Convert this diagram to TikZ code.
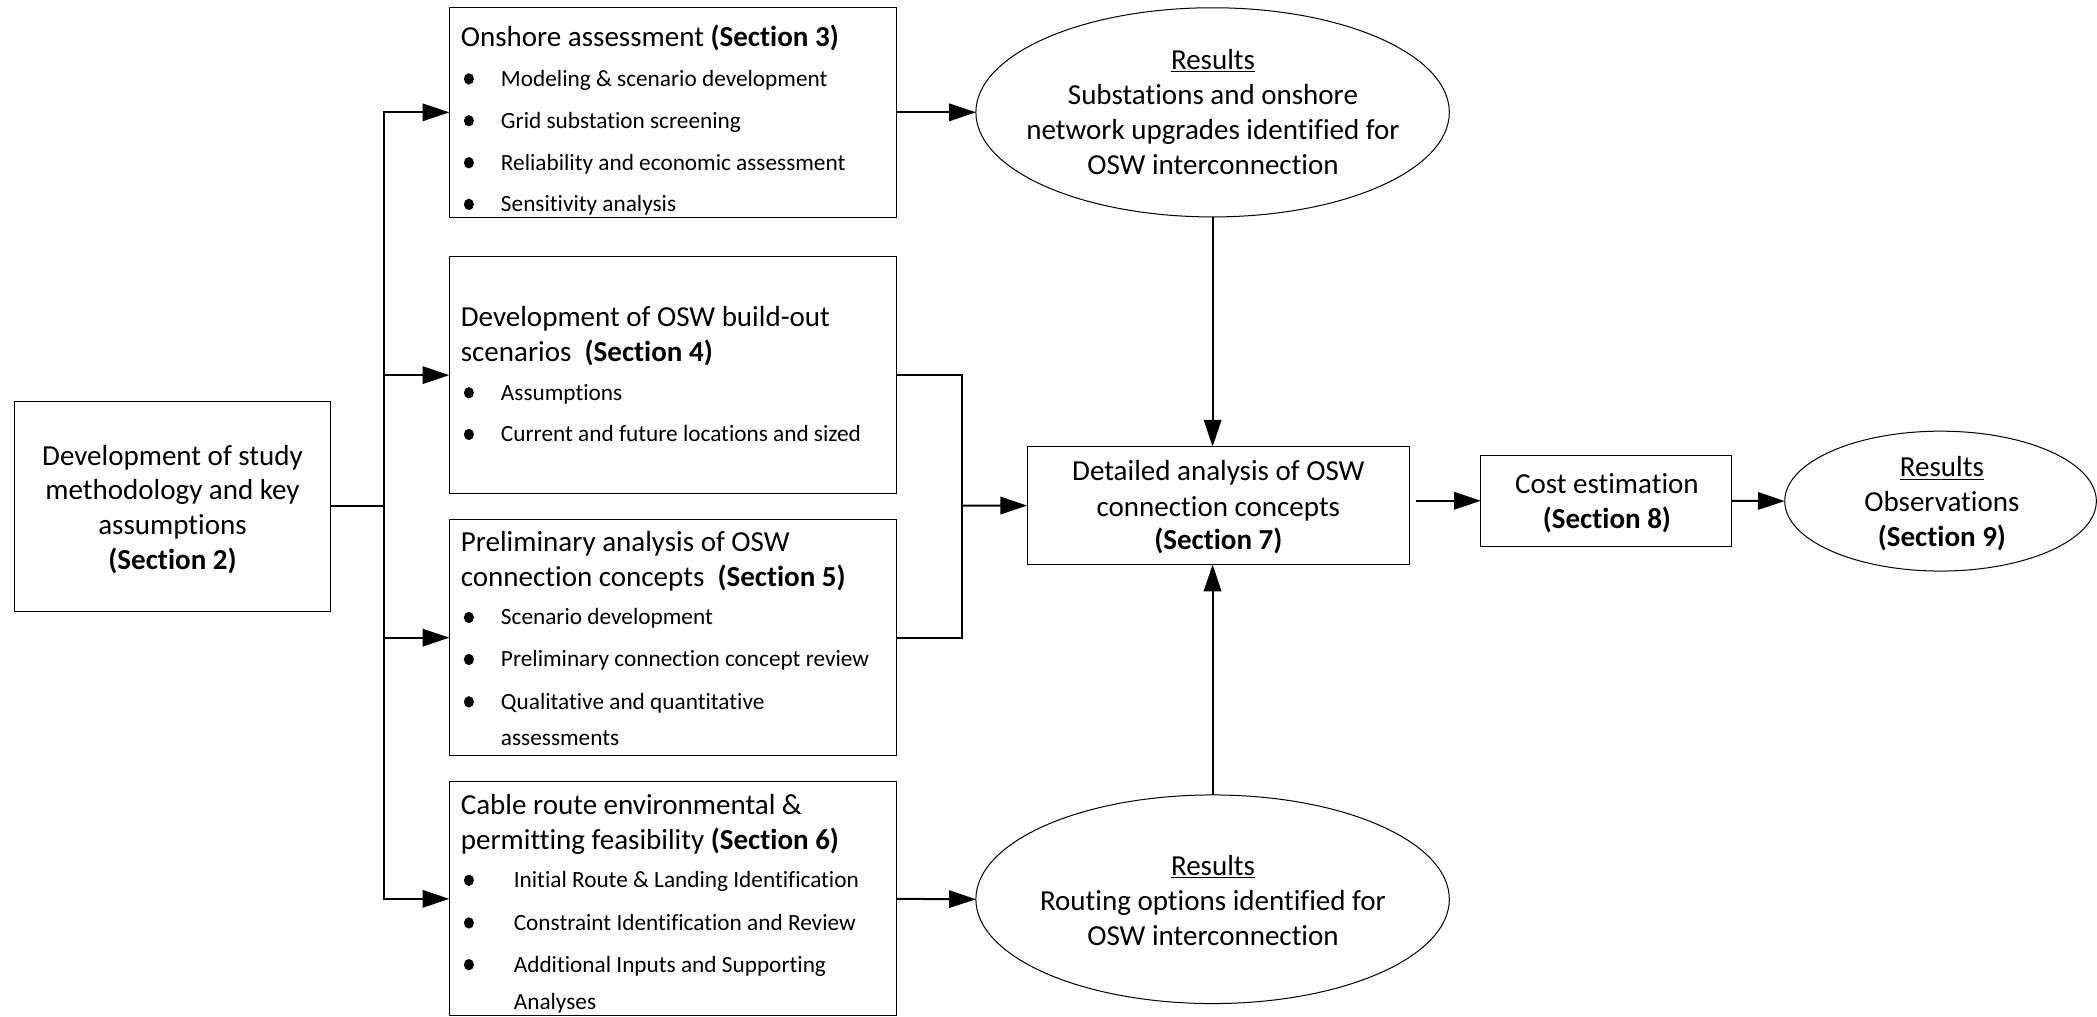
\documentclass[tikz,border=0pt]{standalone}
\usepackage{fontspec}
\setmainfont{Carlito}[Ligatures={NoCommon,NoContextual,NoRare},Contextuals=NoAlternate]
\usetikzlibrary{arrows.meta,shapes.geometric,calc}
\tikzset{
 boxs/.style={draw, line width=0.75pt, inner sep=0pt, outer sep=0pt, anchor=north west},
 ell/.style={draw, ellipse, line width=0.75pt, inner sep=0pt, outer sep=0pt},
 big/.style={font=\fontsize{21.7}{26}\selectfont, inner sep=0pt, anchor=base},
 bigl/.style={big, anchor=base west},
 small/.style={font=\fontsize{17.4}{21}\selectfont, inner sep=0pt, anchor=base west},
 dot/.style={ellipse, fill, inner sep=0pt, minimum width=7.5pt, minimum height=8.5pt},
 conn/.style={line width=1.5pt},
 arr/.style={conn, -{Triangle[length=20pt,width=13pt]}},
}
\begin{document}
\begin{tikzpicture}[x=1pt,y=-1pt]
\useasboundingbox (0,0) rectangle (1568,760.4);

% ---------- boxes ----------
\node[boxs, minimum width=236pt, minimum height=157pt] (L) at (11,300) {};
\node[boxs, minimum width=334pt, minimum height=157pt] (on) at (336,5.5) {};
\node[boxs, minimum width=334pt, minimum height=177pt] (osw) at (336,192) {};
\node[boxs, minimum width=334pt, minimum height=176.8pt] (pre) at (336,388.4) {};
\node[boxs, minimum width=334pt, minimum height=175pt] (cab) at (336,584.6) {};
\node[boxs, minimum width=285.6pt, minimum height=88.1pt] (det) at (768,334) {};
\node[boxs, minimum width=187.6pt, minimum height=68.3pt] (cost) at (1107.3,340.3) {};
\node[ell, minimum width=354pt, minimum height=156.4pt] (res1) at (906.7,84) {};
\node[ell, minimum width=354pt, minimum height=156pt] (res2) at (906.7,672.4) {};
\node[ell, minimum width=233pt, minimum height=104.6pt] (obs) at (1451,374.7) {};

% ---------- left box text ----------
\node[big] (l1) at (129,348) {Development of study};
\node[big] (l2) at (129,373.8) {methodology and key};
\node[big] (l3) at (129,400) {assumptions};
\node[big] (l4) at (129,425.9) {\textbf{(Section 2)}};

% ---------- onshore ----------
\node[bigl] (on0) at (344.4,34.4) {Onshore assessment \textbf{(Section 3)}};
\node[dot] (ond1) at (350.6,59) {};
\node[dot] (ond2) at (350.6,90.3) {};
\node[dot] (ond3) at (350.6,121.7) {};
\node[dot] (ond4) at (350.6,152.8) {};
\node[small] (on1) at (374.4,64.5) {Modeling \& scenario development};
\node[small] (on2) at (374.4,95.8) {Grid substation screening};
\node[small] (on3) at (374.4,127.2) {Reliability and economic assessment};
\node[small] (on4) at (374.4,158.3) {Sensitivity analysis};

% ---------- OSW build-out ----------
\node[bigl] (osw0) at (344.4,243.8) {Development of OSW build-out};
\node[bigl] (osw1) at (344.4,270) {scenarios\ \ \textbf{(Section 4)}};
\node[dot] (oswd1) at (350.6,293.7) {};
\node[dot] (oswd2) at (350.6,324.8) {};
\node[small] (osw2) at (374.4,299.2) {Assumptions};
\node[small] (osw3) at (374.4,330.3) {Current and future locations and sized};

% ---------- preliminary ----------
\node[bigl] (pre0) at (344.4,412.1) {Preliminary analysis of OSW};
\node[bigl] (pre1) at (344.4,438.3) {connection concepts\ \ \textbf{(Section 5)}};
\node[dot] (pred1) at (350.6,461.7) {};
\node[dot] (pred2) at (350.6,493.1) {};
\node[dot] (pred3) at (350.6,524.8) {};
\node[small] (pre2) at (374.4,467.2) {Scenario development};
\node[small] (pre3) at (374.4,498.6) {Preliminary connection concept review};
\node[small] (pre4) at (374.4,530.3) {Qualitative and quantitative};
\node[small] (pre5) at (374.4,557.7) {assessments};

% ---------- cable ----------
\node[bigl] (cab0) at (344.4,609) {Cable route environmental \&};
\node[bigl] (cab1) at (344.4,635.3) {permitting feasibility \textbf{(Section 6)}};
\node[dot] (cabd1) at (350.6,658.2) {};
\node[dot] (cabd2) at (350.6,690.1) {};
\node[dot] (cabd3) at (350.6,721.3) {};
\node[small] (cab2) at (384,663.7) {Initial Route \& Landing Identification};
\node[small] (cab3) at (384,695.6) {Constraint Identification and Review};
\node[small] (cab4) at (384,726.8) {Additional Inputs and Supporting};
\node[small] (cab5) at (384,754.7) {Analyses};

% ---------- results top ----------
\node[big] (r1a) at (907,52) {\underline{Results}};
\node[big] (r1b) at (907,78.2) {Substations and onshore};
\node[big] (r1c) at (907,104.3) {network upgrades identified for};
\node[big] (r1d) at (907,130.4) {OSW interconnection};

% ---------- results bottom ----------
\node[big] (r2a) at (907,654.7) {\underline{Results}};
\node[big] (r2b) at (907,680.9) {Routing options identified for};
\node[big] (r2c) at (907,707) {OSW interconnection};

% ---------- detailed ----------
\node[big] (d1) at (911,359.4) {Detailed analysis of OSW};
\node[big] (d2) at (911,386) {connection concepts};
\node[big] (d3) at (911,411.2) {\textbf{(Section 7)}};

% ---------- cost ----------
\node[big] (c1) at (1201.5,369.1) {Cost estimation};
\node[big] (c2) at (1201.5,395.3) {\textbf{(Section 8)}};

% ---------- observations ----------
\node[big] (o1) at (1452,356.5) {\underline{Results}};
\node[big] (o2) at (1452,382.7) {Observations};
\node[big] (o3) at (1452,408.8) {\textbf{(Section 9)}};

% ---------- connectors ----------
\coordinate (tr) at (287,378.5);
\coordinate (jn) at (719.3,378);
\draw[conn] (L.east) -- (tr);
\draw[arr] (tr) |- (on.west);
\draw[arr] (tr) |- (osw.west);
\draw[arr] (tr) |- (pre.west);
\draw[arr] (tr) |- (cab.west);
\draw[arr] (on.east) -- (res1.west);
\draw[arr] (cab.east) -- (res2.west);
\draw[conn] (osw.east) -| (jn);
\draw[conn] (pre.east) -| (jn);
\draw[arr] (jn) -- (det.west);
\draw[arr] (res1.south) -- (res1.south |- det.north);
\draw[arr] (res2.north) -- (res2.north |- det.south);
\draw[arr] ($(det.east |- cost.west)+(5,0)$) -- (cost.west);
\draw[arr] (cost.east) -- (obs.west);
\end{tikzpicture}
\end{document}
